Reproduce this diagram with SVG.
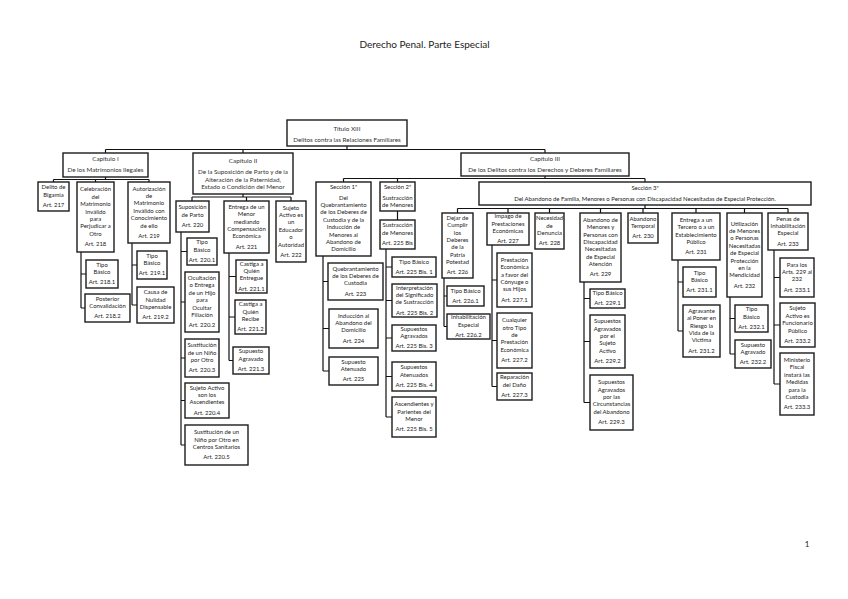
<svg xmlns="http://www.w3.org/2000/svg" width="848" height="599" viewBox="0 0 848 599">
<style>
.n rect{fill:#fff;stroke:#1c1c1c;stroke-width:1.4}
text{font-family:Lato,"Liberation Sans",sans-serif;font-size:5.95px;fill:#222;text-anchor:middle}
.hd text{font-size:6.3px;fill:#333}
.h{font-size:10px;fill:#222}
#connectors path{fill:none;stroke:#111;stroke-width:1.2}
</style>
<rect width="848" height="599" fill="#fff"/>
<text class="h" x="424.5" y="48">Derecho Penal. Parte Especial</text>
<text class="h" x="807" y="547" style="font-size:8px">1</text>
<g id="connectors">
<path d="M347 146V149.5 M105.5 149.5H545 M105.5 149.5V153 M243 149.5V153 M545 149.5V153"/>
<path d="M105.5 177V179.5 M53.5 179.5H149 M53.5 179.5V182 M95.5 179.5V182 M149 179.5V182"/>
<path d="M81 252V308 M81 274H86 M81 308H85"/>
<path d="M132 243V305 M132 265H137 M132 305H137"/>
<path d="M243 194V197 M192 197H291 M192 197V201 M246.5 197V201 M291 197V201"/>
<path d="M181 232V445 M181 251.5H187 M181 302H185 M181 358H185 M181 400.5H185 M181 445H185"/>
<path d="M229 253V360.5 M229 276.5H236 M229 317H235 M229 360.5H233"/>
<path d="M545 176V178.5 M343.5 178.5H645 M343.5 178.5V182 M397.5 178.5V182 M645 178.5V182"/>
<path d="M397.5 211V220"/>
<path d="M386 249V417 M386 267H392 M386 300.5H392 M386 338H392 M386 376.5H392 M386 417H392"/>
<path d="M323 256V371 M323 281.5H328 M323 328.5H329 M323 371H329"/>
<path d="M645 205V208.5 M457.5 208.5H788 M457.5 208.5V213 M508 208.5V213 M549.5 208.5V213 M600.5 208.5V213 M643 208.5V213 M696 208.5V213 M744.5 208.5V213 M788 208.5V213"/>
<path d="M444 278V326.5 M444 296H447 M444 326.5H447"/>
<path d="M492 245V386.5 M492 280H497 M492 340.5H497 M492 386.5H497"/>
<path d="M584 282V402.5 M584 298.5H590 M584 341.5H590 M584 402.5H590"/>
<path d="M678 260V331 M678 282H683 M678 331H683"/>
<path d="M730 297V354 M730 318.5H735 M730 354H735"/>
<path d="M774 250V384 M774 277.5H780 M774 325H780 M774 384H780"/>
</g>

<g id="titulo13" class="n hd"><rect x="287" y="120" width="120" height="26"/><text><tspan x="347" y="130.5">Título XIII</tspan><tspan x="347" y="141.5">Delitos contra las Relaciones Familiares</tspan></text></g>
<g id="cap1" class="n hd"><rect x="63" y="153" width="85" height="24"/><text><tspan x="105.5" y="161">Capítulo I</tspan><tspan x="105.5" y="172">De los Matrimonios Ilegales</tspan></text></g>
<g id="cap2" class="n hd"><rect x="193" y="153" width="100" height="41"/><text><tspan x="243" y="163">Capítulo II</tspan><tspan x="243" y="174">De la Suposición de Parto y de la</tspan><tspan x="243" y="181.5">Alteración de la Paternidad,</tspan><tspan x="243" y="189">Estado o Condición del Menor</tspan></text></g>
<g id="cap3" class="n hd"><rect x="461" y="153" width="168" height="23"/><text><tspan x="545" y="161">Capítulo III</tspan><tspan x="545" y="171.5">De los Delitos contra los Derechos y Deberes Familiares</tspan></text></g>

<g id="art217" class="n"><rect x="38" y="182" width="31" height="29"/><text><tspan x="53.5" y="189.3">Delito de</tspan><tspan x="53.5" y="196.7">Bigamia</tspan><tspan x="53.5" y="206.9">Art. 217</tspan></text></g>
<g id="art218" class="n"><rect x="77" y="182" width="37" height="70"/><text><tspan x="95.5" y="191.3">Celebración</tspan><tspan x="95.5" y="198.7">del</tspan><tspan x="95.5" y="206.1">Matrimonio</tspan><tspan x="95.5" y="213.5">Inválido</tspan><tspan x="95.5" y="220.9">para</tspan><tspan x="95.5" y="228.3">Perjudicar a</tspan><tspan x="95.5" y="235.7">Otro</tspan><tspan x="95.5" y="245.9">Art. 218</tspan></text></g>
<g id="art219" class="n"><rect x="128" y="182" width="42" height="61"/><text><tspan x="149" y="190.5">Autorización</tspan><tspan x="149" y="197.9">de</tspan><tspan x="149" y="205.3">Matrimonio</tspan><tspan x="149" y="212.7">Inválido con</tspan><tspan x="149" y="220.1">Conocimiento</tspan><tspan x="149" y="227.5">de ello</tspan><tspan x="149" y="237.7">Art. 219</tspan></text></g>
<g id="art218_1" class="n"><rect x="86" y="260" width="32" height="28"/><text><tspan x="102" y="266.8">Tipo</tspan><tspan x="102" y="274.2">Básico</tspan><tspan x="102" y="284.4">Art. 218.1</tspan></text></g>
<g id="art218_2" class="n"><rect x="85" y="294" width="45" height="28"/><text><tspan x="107.5" y="300.8">Posterior</tspan><tspan x="107.5" y="308.2">Convalidación</tspan><tspan x="107.5" y="318.4">Art. 218.2</tspan></text></g>
<g id="art219_1" class="n"><rect x="137" y="251" width="30" height="28"/><text><tspan x="152" y="257.8">Tipo</tspan><tspan x="152" y="265.2">Básico</tspan><tspan x="152" y="275.4">Art. 219.1</tspan></text></g>
<g id="art219_2" class="n"><rect x="137" y="287" width="37" height="36"/><text><tspan x="155.5" y="294.1">Causa de</tspan><tspan x="155.5" y="301.5">Nulidad</tspan><tspan x="155.5" y="308.9">Dispensable</tspan><tspan x="155.5" y="319.1">Art. 219.2</tspan></text></g>

<g id="art220" class="n"><rect x="176" y="201" width="33" height="31"/><text><tspan x="192.5" y="209.3">Suposición</tspan><tspan x="192.5" y="216.7">de Parto</tspan><tspan x="192.5" y="226.9">Art. 220</tspan></text></g>
<g id="art221" class="n"><rect x="224" y="201" width="45" height="52"/><text><tspan x="246.5" y="208.7">Entrega de un</tspan><tspan x="246.5" y="216.1">Menor</tspan><tspan x="246.5" y="223.5">mediando</tspan><tspan x="246.5" y="230.9">Compensación</tspan><tspan x="246.5" y="238.3">Económica</tspan><tspan x="246.5" y="248.5">Art. 221</tspan></text></g>
<g id="art222" class="n"><rect x="276" y="201" width="30" height="61"/><text><tspan x="291" y="209.5">Sujeto</tspan><tspan x="291" y="216.9">Activo es</tspan><tspan x="291" y="224.3">un</tspan><tspan x="291" y="231.7">Educador</tspan><tspan x="291" y="239.1">o</tspan><tspan x="291" y="246.5">Autoridad</tspan><tspan x="291" y="256.7">Art. 222</tspan></text></g>
<g id="art220_1" class="n"><rect x="187" y="238" width="30" height="27"/><text><tspan x="202" y="244.3">Tipo</tspan><tspan x="202" y="251.7">Básico</tspan><tspan x="202" y="261.9">Art. 220.1</tspan></text></g>
<g id="art220_2" class="n"><rect x="185" y="272" width="34" height="60"/><text><tspan x="202" y="280">Ocultación</tspan><tspan x="202" y="287.4">o Entrega</tspan><tspan x="202" y="294.8">de un Hijo</tspan><tspan x="202" y="302.2">para</tspan><tspan x="202" y="309.6">Ocultar</tspan><tspan x="202" y="317">Filiación</tspan><tspan x="202" y="327.2">Art. 220.2</tspan></text></g>
<g id="art220_3" class="n"><rect x="185" y="339" width="34" height="38"/><text><tspan x="202" y="347.1">Sustitución</tspan><tspan x="202" y="354.5">de un Niño</tspan><tspan x="202" y="361.9">por Otro</tspan><tspan x="202" y="372.1">Art. 220.3</tspan></text></g>
<g id="art220_4" class="n"><rect x="185" y="383" width="44" height="35"/><text><tspan x="207" y="389.6">Sujeto Activo</tspan><tspan x="207" y="397">son los</tspan><tspan x="207" y="404.4">Ascendientes</tspan><tspan x="207" y="414.6">Art. 220.4</tspan></text></g>
<g id="art220_5" class="n"><rect x="185" y="425" width="63" height="40"/><text><tspan x="216.5" y="434.1">Sustitución de un</tspan><tspan x="216.5" y="441.5">Niño por Otro en</tspan><tspan x="216.5" y="448.9">Centros Sanitarios</tspan><tspan x="216.5" y="459.1">Art. 220.5</tspan></text></g>
<g id="art221_1" class="n"><rect x="236" y="260" width="31" height="33"/><text><tspan x="251.5" y="265.6">Castiga a</tspan><tspan x="251.5" y="273">Quién</tspan><tspan x="251.5" y="280.4">Entregue</tspan><tspan x="251.5" y="290.6">Art. 221.1</tspan></text></g>
<g id="art221_2" class="n"><rect x="235" y="300" width="31" height="34"/><text><tspan x="250.5" y="306.1">Castiga a</tspan><tspan x="250.5" y="313.5">Quién</tspan><tspan x="250.5" y="320.9">Recibe</tspan><tspan x="250.5" y="331.1">Art. 221.2</tspan></text></g>
<g id="art221_3" class="n"><rect x="233" y="347" width="36" height="27"/><text><tspan x="251" y="353.3">Supuesto</tspan><tspan x="251" y="360.7">Agravado</tspan><tspan x="251" y="370.9">Art. 221.3</tspan></text></g>

<g id="sec1" class="n"><rect x="316" y="182" width="55" height="74"/><text><tspan x="343.5" y="189.3">Sección 1ª</tspan><tspan x="343.5" y="199.5">Del</tspan><tspan x="343.5" y="206.9">Quebrantamiento</tspan><tspan x="343.5" y="214.3">de los Deberes de</tspan><tspan x="343.5" y="221.7">Custodia y de la</tspan><tspan x="343.5" y="229.1">Inducción de</tspan><tspan x="343.5" y="236.5">Menores al</tspan><tspan x="343.5" y="243.9">Abandono de</tspan><tspan x="343.5" y="251.3">Domicilio</tspan></text></g>
<g id="sec2" class="n"><rect x="380" y="182" width="35" height="29"/><text><tspan x="397.5" y="189.3">Sección 2ª</tspan><tspan x="397.5" y="199.5">Sustracción</tspan><tspan x="397.5" y="206.9">de Menores</tspan></text></g>
<g id="art225bis" class="n"><rect x="380" y="220" width="35" height="29"/><text><tspan x="397.5" y="227.3">Sustracción</tspan><tspan x="397.5" y="234.7">de Menores</tspan><tspan x="397.5" y="244.9">Art. 225 Bis</tspan></text></g>
<g id="art223" class="n"><rect x="328" y="263" width="55" height="37"/><text><tspan x="355.5" y="270.6">Quebrantamiento</tspan><tspan x="355.5" y="278">de los Deberes de</tspan><tspan x="355.5" y="285.4">Custodia</tspan><tspan x="355.5" y="295.6">Art. 223</tspan></text></g>
<g id="art224" class="n"><rect x="329" y="309" width="49" height="39"/><text><tspan x="353.5" y="317.6">Inducción al</tspan><tspan x="353.5" y="325">Abandono del</tspan><tspan x="353.5" y="332.4">Domicilio</tspan><tspan x="353.5" y="342.6">Art. 224</tspan></text></g>
<g id="art225" class="n"><rect x="329" y="357" width="49" height="28"/><text><tspan x="353.5" y="363.8">Supuesto</tspan><tspan x="353.5" y="371.2">Atenuado</tspan><tspan x="353.5" y="381.4">Art. 225</tspan></text></g>
<g id="art225bis1" class="n"><rect x="392" y="257" width="44" height="20"/><text><tspan x="414" y="263.5">Tipo Básico</tspan><tspan x="414" y="273.7">Art. 225 Bis. 1</tspan></text></g>
<g id="art225bis2" class="n"><rect x="392" y="284" width="45" height="33"/><text><tspan x="414.5" y="289.6">Interpretación</tspan><tspan x="414.5" y="297">del Significado</tspan><tspan x="414.5" y="304.4">de Sustracción</tspan><tspan x="414.5" y="314.6">Art. 225 Bis. 2</tspan></text></g>
<g id="art225bis3" class="n"><rect x="392" y="325" width="44" height="26"/><text><tspan x="414" y="330.8">Supuestos</tspan><tspan x="414" y="338.2">Agravados</tspan><tspan x="414" y="348.4">Art. 225 Bis. 3</tspan></text></g>
<g id="art225bis4" class="n"><rect x="392" y="362" width="44" height="29"/><text><tspan x="414" y="369.3">Supuestos</tspan><tspan x="414" y="376.7">Atenuados</tspan><tspan x="414" y="386.9">Art. 225 Bis. 4</tspan></text></g>
<g id="art225bis5" class="n"><rect x="392" y="397" width="44" height="40"/><text><tspan x="414" y="406.1">Ascendientes y</tspan><tspan x="414" y="413.5">Parientes del</tspan><tspan x="414" y="420.9">Menor</tspan><tspan x="414" y="431.1">Art. 225 Bis. 5</tspan></text></g>

<g id="sec3" class="n"><rect x="479" y="182" width="332" height="23"/><text><tspan x="645" y="190">Sección 3ª</tspan><tspan x="645" y="200.5">Del Abandono de Familia, Menores o Personas con Discapacidad Necesitadas de Especial Protección.</tspan></text></g>
<g id="art226" class="n"><rect x="442" y="213" width="31" height="65"/><text><tspan x="457.5" y="219.8">Dejar de</tspan><tspan x="457.5" y="227.2">Cumplir</tspan><tspan x="457.5" y="234.6">los</tspan><tspan x="457.5" y="242">Deberes</tspan><tspan x="457.5" y="249.4">de la</tspan><tspan x="457.5" y="256.8">Patria</tspan><tspan x="457.5" y="264.2">Potestad</tspan><tspan x="457.5" y="274.4">Art. 226</tspan></text></g>
<g id="art227" class="n"><rect x="487" y="213" width="42" height="32"/><text><tspan x="508" y="218.1">Impago de</tspan><tspan x="508" y="225.5">Prestaciones</tspan><tspan x="508" y="232.9">Económicas</tspan><tspan x="508" y="243.1">Art. 227</tspan></text></g>
<g id="art228" class="n"><rect x="535" y="213" width="29" height="36"/><text><tspan x="549.5" y="220.1">Necesidad</tspan><tspan x="549.5" y="227.5">de</tspan><tspan x="549.5" y="234.9">Denuncia</tspan><tspan x="549.5" y="245.1">Art. 228</tspan></text></g>
<g id="art229" class="n"><rect x="580" y="213" width="41" height="69"/><text><tspan x="600.5" y="221.8">Abandono de</tspan><tspan x="600.5" y="229.2">Menores y</tspan><tspan x="600.5" y="236.6">Personas con</tspan><tspan x="600.5" y="244">Discapacidad</tspan><tspan x="600.5" y="251.4">Necesitadas</tspan><tspan x="600.5" y="258.8">de Especial</tspan><tspan x="600.5" y="266.2">Atención</tspan><tspan x="600.5" y="276.4">Art. 229</tspan></text></g>
<g id="art230" class="n"><rect x="628" y="213" width="30" height="30"/><text><tspan x="643" y="220.8">Abandono</tspan><tspan x="643" y="228.2">Temporal</tspan><tspan x="643" y="238.4">Art. 230</tspan></text></g>
<g id="art231" class="n"><rect x="672" y="213" width="48" height="47"/><text><tspan x="696" y="221.9">Entrega a un</tspan><tspan x="696" y="229.3">Tercero o a un</tspan><tspan x="696" y="236.7">Establecimiento</tspan><tspan x="696" y="244.1">Público</tspan><tspan x="696" y="254.3">Art. 231</tspan></text></g>
<g id="art232" class="n"><rect x="727" y="213" width="35" height="84"/><text><tspan x="744.5" y="225.6">Utilización</tspan><tspan x="744.5" y="233">de Menores</tspan><tspan x="744.5" y="240.4">o Personas</tspan><tspan x="744.5" y="247.8">Necesitadas</tspan><tspan x="744.5" y="255.2">de Especial</tspan><tspan x="744.5" y="262.6">Protección</tspan><tspan x="744.5" y="270">en la</tspan><tspan x="744.5" y="277.4">Mendicidad</tspan><tspan x="744.5" y="287.6">Art. 232</tspan></text></g>
<g id="art233" class="n"><rect x="768" y="213" width="40" height="37"/><text><tspan x="788" y="220.6">Penas de</tspan><tspan x="788" y="228">Inhabilitación</tspan><tspan x="788" y="235.4">Especial</tspan><tspan x="788" y="245.6">Art. 233</tspan></text></g>
<g id="art226_1" class="n"><rect x="447" y="286" width="37" height="20"/><text><tspan x="465.5" y="292.5">Tipo Básico</tspan><tspan x="465.5" y="302.7">Art. 226.1</tspan></text></g>
<g id="art226_2" class="n"><rect x="447" y="314" width="43" height="25"/><text><tspan x="468.5" y="319.3">Inhabilitación</tspan><tspan x="468.5" y="326.7">Especial</tspan><tspan x="468.5" y="336.9">Art. 226.2</tspan></text></g>
<g id="art227_1" class="n"><rect x="497" y="253" width="35" height="54"/><text><tspan x="514.5" y="261.7">Prestación</tspan><tspan x="514.5" y="269.1">Económica</tspan><tspan x="514.5" y="276.5">a favor del</tspan><tspan x="514.5" y="283.9">Cónyuge o</tspan><tspan x="514.5" y="291.3">sus Hijos</tspan><tspan x="514.5" y="301.5">Art. 227.1</tspan></text></g>
<g id="art227_2" class="n"><rect x="497" y="313" width="35" height="55"/><text><tspan x="514.5" y="322.2">Cualquier</tspan><tspan x="514.5" y="329.6">otro Tipo</tspan><tspan x="514.5" y="337">de</tspan><tspan x="514.5" y="344.4">Prestación</tspan><tspan x="514.5" y="351.8">Económica</tspan><tspan x="514.5" y="362">Art. 227.2</tspan></text></g>
<g id="art227_3" class="n"><rect x="497" y="373" width="35" height="27"/><text><tspan x="514.5" y="379.3">Reparación</tspan><tspan x="514.5" y="386.7">del Daño</tspan><tspan x="514.5" y="396.9">Art. 227.3</tspan></text></g>
<g id="art229_1" class="n"><rect x="590" y="289" width="35" height="19"/><text><tspan x="607.5" y="295">Tipo Básico</tspan><tspan x="607.5" y="305.2">Art. 229.1</tspan></text></g>
<g id="art229_2" class="n"><rect x="590" y="315" width="35" height="53"/><text><tspan x="607.5" y="323.2">Supuestos</tspan><tspan x="607.5" y="330.6">Agravados</tspan><tspan x="607.5" y="338">por el</tspan><tspan x="607.5" y="345.4">Sujeto</tspan><tspan x="607.5" y="352.8">Activo</tspan><tspan x="607.5" y="363">Art. 229.2</tspan></text></g>
<g id="art229_3" class="n"><rect x="590" y="375" width="43" height="55"/><text><tspan x="611.5" y="384.2">Supuestos</tspan><tspan x="611.5" y="391.6">Agravados</tspan><tspan x="611.5" y="399">por las</tspan><tspan x="611.5" y="406.4">Circunstancias</tspan><tspan x="611.5" y="413.8">del Abandono</tspan><tspan x="611.5" y="424">Art. 229.3</tspan></text></g>
<g id="art231_1" class="n"><rect x="683" y="267" width="33" height="30"/><text><tspan x="699.5" y="274.8">Tipo</tspan><tspan x="699.5" y="282.2">Básico</tspan><tspan x="699.5" y="292.4">Art. 231.1</tspan></text></g>
<g id="art231_2" class="n"><rect x="683" y="305" width="37" height="52"/><text><tspan x="701.5" y="312.7">Agravante</tspan><tspan x="701.5" y="320.1">al Poner en</tspan><tspan x="701.5" y="327.5">Riesgo la</tspan><tspan x="701.5" y="334.9">Vida de la</tspan><tspan x="701.5" y="342.3">Víctima</tspan><tspan x="701.5" y="352.5">Art. 231.2</tspan></text></g>
<g id="art232_1" class="n"><rect x="735" y="305" width="33" height="27"/><text><tspan x="751.5" y="311.3">Tipo</tspan><tspan x="751.5" y="318.7">Básico</tspan><tspan x="751.5" y="328.9">Art. 232.1</tspan></text></g>
<g id="art232_2" class="n"><rect x="735" y="340" width="36" height="28"/><text><tspan x="753" y="346.8">Supuesto</tspan><tspan x="753" y="354.2">Agravado</tspan><tspan x="753" y="364.4">Art. 232.2</tspan></text></g>
<g id="art233_1" class="n"><rect x="780" y="258" width="34" height="39"/><text><tspan x="797" y="266.6">Para los</tspan><tspan x="797" y="274">Arts. 229 al</tspan><tspan x="797" y="281.4">232</tspan><tspan x="797" y="291.6">Art. 233.1</tspan></text></g>
<g id="art233_2" class="n"><rect x="780" y="303" width="35" height="44"/><text><tspan x="797.5" y="310.4">Sujeto</tspan><tspan x="797.5" y="317.8">Activo es</tspan><tspan x="797.5" y="325.2">Funcionario</tspan><tspan x="797.5" y="332.6">Público</tspan><tspan x="797.5" y="342.8">Art. 233.2</tspan></text></g>
<g id="art233_3" class="n"><rect x="780" y="353" width="34" height="62"/><text><tspan x="797" y="362">Ministerio</tspan><tspan x="797" y="369.4">Fiscal</tspan><tspan x="797" y="376.8">instará las</tspan><tspan x="797" y="384.2">Medidas</tspan><tspan x="797" y="391.6">para la</tspan><tspan x="797" y="399">Custodia</tspan><tspan x="797" y="409.2">Art. 233.3</tspan></text></g>
</svg>
